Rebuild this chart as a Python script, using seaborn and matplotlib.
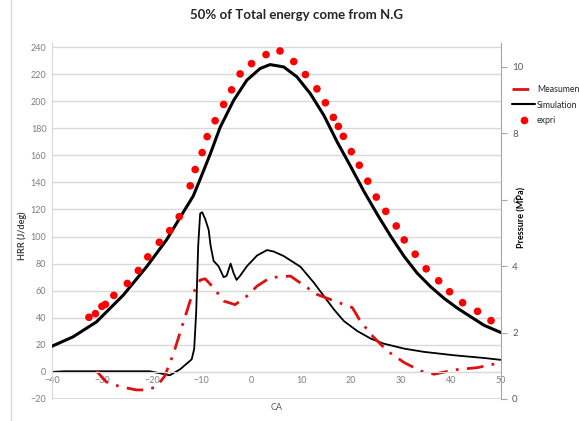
import matplotlib
matplotlib.use("Agg")
import matplotlib.pyplot as plt
import seaborn as sns
import pandas as pd
from matplotlib.lines import Line2D

# pressure - simulation (MPa)
ca_p_sim = [-40, -35.8, -31.1, -25.7, -21.0, -17.0, -13.7, -11.7, -10.3, -8.3, -6.3, -3.6, -0.95,
            1.7, 3.7, 6.45, 9.1, 11.8, 14.5, 17.2, 19.8, 22.5, 25.2, 27.9, 30.6, 33.2, 35.9,
            38.6, 41.3, 44.0, 46.6, 50]
p_sim = [1.59, 1.87, 2.32, 3.13, 3.99, 4.80, 5.62, 6.11, 6.62, 7.37, 8.18, 8.99, 9.60,
         9.95, 10.07, 10.0, 9.70, 9.19, 8.54, 7.73, 7.02, 6.26, 5.56, 4.90, 4.29, 3.79, 3.38,
         3.03, 2.73, 2.47, 2.22, 2.0]

# pressure - experiment (MPa)
ca_exp = [-32.6, -31.3, -30.0, -29.3, -27.6, -24.9, -22.7, -20.8, -18.5, -16.4, -14.5, -12.3,
          -11.3, -9.9, -8.9, -7.3, -5.6, -4.0, -2.3, 0.0, 2.9, 5.7, 8.46, 10.8, 13.1, 14.8,
          16.4, 17.4, 18.4, 20.0, 21.6, 23.3, 25.0, 26.9, 29.0, 30.6, 32.8, 35.0, 37.5, 39.7,
          42.3, 45.3, 48.0]
p_exp = [2.46, 2.57, 2.79, 2.85, 3.12, 3.48, 3.87, 4.28, 4.72, 5.07, 5.49, 6.42,
         6.91, 7.42, 7.90, 8.38, 8.87, 9.31, 9.79, 10.10, 10.37, 10.48, 10.16, 9.77, 9.34, 8.92,
         8.48, 8.21, 7.91, 7.45, 7.04, 6.56, 6.08, 5.65, 5.21, 4.79, 4.36, 3.92, 3.56, 3.23,
         2.90, 2.64, 2.36]

# HRR - simulation (J/deg)
ca_hrr_sim = [-40, -37.5, -20.4, -17.0, -16.4, -14.3, -12.0, -11.5, -11.1, -10.7, -10.3, -9.9,
              -9.3, -8.6, -8.2, -7.6, -6.6, -5.6, -5.0, -4.2, -3.6, -3.0, -2.3, -0.95, 1.1,
              3.1, 4.4, 6.45, 9.8, 12.5, 14.5, 16.5, 18.5, 21.2, 23.9, 26.5, 30.6, 34.6,
              40.6, 46.6, 50]
hrr_sim = [0, 0.5, 0.5, -2, -2.5, 2, 9.3, 17, 44, 93, 117, 118,
           113, 105, 93, 82, 78, 70, 71, 80, 73, 68, 71, 78, 86,
           90, 89, 85.6, 77.7, 65.9, 56, 46.2, 37.6, 30.2, 24.6, 20.9, 17.2, 14.8,
           12.3, 10.3, 8.9]

# HRR - measurement (J/deg)
ca_hrr_meas = [-31.1, -29.1, -26.4, -23.1, -21.0, -19.0, -17.4, -15.7, -13.7, -12.0, -10.3,
               -9.3, -7.6, -5.6, -3.3, -0.95, 1.1, 3.7, 5.7, 7.8, 10.5, 13.1, 17.2, 20.2,
               21.6, 23.9, 27.2, 30.6, 33.9, 36.6, 40.6, 45.3, 50]
hrr_meas = [0.7, -7.4, -10.8, -13.3, -13.3, -10.8, -3, 13, 36.4, 56, 67.9,
            68.8, 62.2, 52.4, 49.7, 56, 63.4, 69.6, 70.3, 70.8, 63.9, 57.3, 51.6, 47.5,
            38.8, 27.8, 15.5, 6.9, 0.7, -1.7, 1.5, 3.2, 6.9]

x_ticks = list(range(-40, 51, 10))
hrr_ticks = list(range(-20, 241, 20))
p_ticks = list(range(0, 11, 2))

sns.set_style("white")
plt.rcParams['font.family'] = ['Lato', 'DejaVu Sans']

fig = plt.figure(figsize=(5.79, 4.21), dpi=100)
ax = fig.add_axes([52 / 579, 1 - 399 / 421, 449 / 579, 356 / 421])
ax2 = ax.twinx()

grid_c = "#D9D9D9"
tick_c = "#7F7F7F"

# HRR curves (left axis)
sns.lineplot(x=ca_hrr_sim, y=hrr_sim, ax=ax, color="black", linewidth=1.3,
             estimator=None, sort=False, legend=False)
sns.lineplot(x=ca_hrr_meas, y=hrr_meas, ax=ax, color="#E01010", linewidth=2,
             estimator=None, sort=False, legend=False)
ax.lines[-1].set_dashes([6, 3, 1, 3])

# pressure (right axis)
sns.lineplot(x=ca_p_sim, y=p_sim, ax=ax2, color="black", linewidth=2.2,
             estimator=None, sort=False, legend=False)
sns.scatterplot(x=ca_exp, y=p_exp, ax=ax2, color="#FF0000", s=30, edgecolor="none",
                legend=False, zorder=3)

ax.set_xlim(-40, 50)
ax.set_ylim(-20, 243)
ax2.set_ylim(0, 10.72)

ax.set_yticks(hrr_ticks)
ax.set_xticks(x_ticks)
ax2.set_yticks(p_ticks)
ax.yaxis.grid(True, color=grid_c, linewidth=1)
ax.xaxis.grid(False)
ax2.grid(False)

ax.spines['bottom'].set_position(('data', 0))
ax.spines['bottom'].set_color(grid_c)
ax.spines['left'].set_color(grid_c)
ax.spines['top'].set_visible(False)
ax.spines['right'].set_visible(False)
for s in ['top', 'left', 'bottom']:
    ax2.spines[s].set_visible(False)
ax2.spines['right'].set_color("#A6A6A6")

ax.tick_params(axis='both', labelsize=6.5, colors=tick_c, length=0, pad=4)
ax.tick_params(axis='x', pad=3)
ax2.tick_params(axis='y', labelsize=7, colors="#595959", length=4, width=0.8,
                direction='out', pad=4)
ax2.tick_params(axis='y', color="#A6A6A6")

ax.set_xlabel("")
ax.set_ylabel("HRR (J/deg)", fontsize=6.5, fontweight='bold', color="#404040")
ax.yaxis.set_label_coords(-0.055, 0.46)
ax2.set_ylabel("Pressure (MPa)", fontsize=6.5, fontweight='bold', color="#000000")
ax2.yaxis.set_label_coords(1.036, 0.51)
ax.text(0.5, -0.025, "CA", transform=ax.transAxes, ha='center', va='center',
        fontsize=6.5, color="#595959")

# bottom border (-20 gridline)
ax.axhline(-20, color=grid_c, linewidth=1.2)

fig.text(297 / 579, 1 - 15 / 421, "50% of Total energy come from N.G",
         ha='center', va='center', fontsize=9.5, fontweight='bold')

handles = [Line2D([], [], color="#E01010", linewidth=2, dashes=[6, 3, 1, 3]),
           Line2D([], [], color="black", linewidth=1.5),
           Line2D([], [], color="#FF0000", marker='o', linestyle='none', markersize=5.5,
                  markeredgecolor='none')]
fig.legend(handles, ["Measument", "Simulation", "expri"], loc='upper left',
           bbox_to_anchor=(508 / 579, 1 - 81 / 421), frameon=False, fontsize=6.3,
           handlelength=2.6, handletextpad=0.2, labelspacing=0.7, borderpad=0)

fig.add_artist(Line2D([11 / 579, 11 / 579], [0, 1], transform=fig.transFigure,
                      color=grid_c, linewidth=1))

fig.savefig("out.png", dpi=100)
